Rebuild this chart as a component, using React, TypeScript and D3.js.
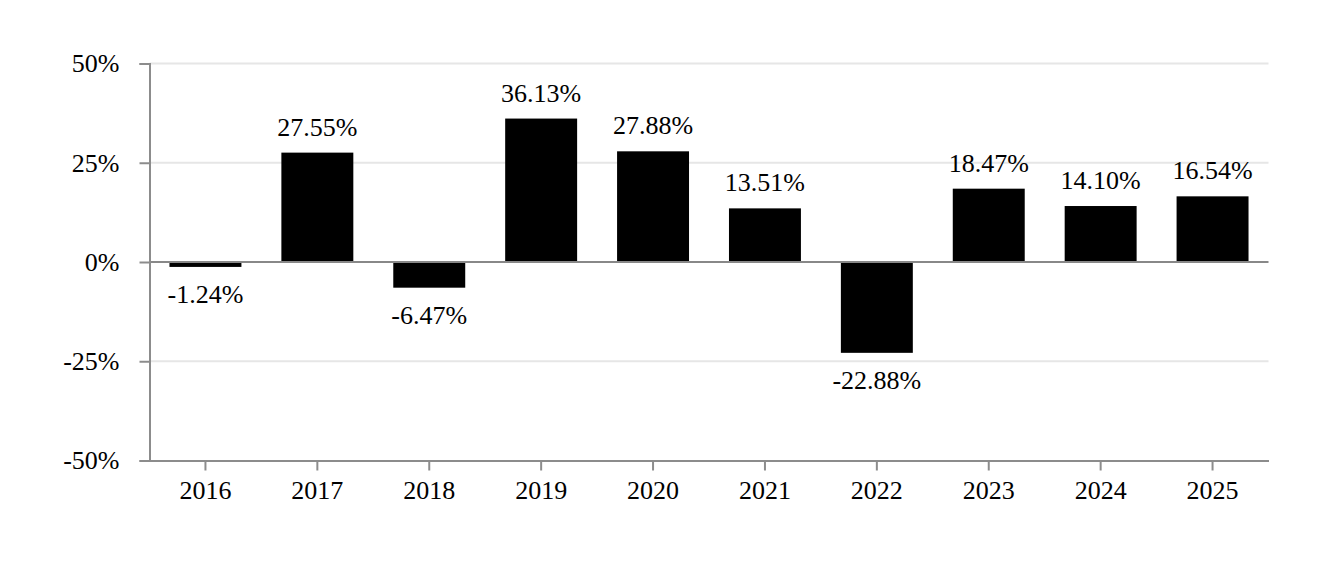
import React, { useEffect, useRef } from 'react';
import * as d3 from 'd3';

const years = ['2016', '2017', '2018', '2019', '2020', '2021', '2022', '2023', '2024', '2025'];
const returns = [-1.24, 27.55, -6.47, 36.13, 27.88, 13.51, -22.88, 18.47, 14.1, 16.54];
const yTicks = [-50, -25, 0, 25, 50];

const W = 1332;
const H = 570;

export default function App() {
  const svgRef = useRef<SVGSVGElement>(null);

  useEffect(() => {
    if (!svgRef.current) return;
    const svg = d3.select(svgRef.current);
    svg.selectAll('*').remove();

    const margin = { top: 63.5, right: 63.5, bottom: 109.5, left: 149.5 };
    const innerWidth = W - margin.left - margin.right;
    const innerHeight = H - margin.top - margin.bottom;
    const font = '"Liberation Serif", "Times New Roman", serif';

    const g = svg.append('g').attr('transform', `translate(${margin.left},${margin.top})`);

    const x = d3.scaleBand<string>().domain(years).range([0, innerWidth]).paddingInner(0.357).paddingOuter(0.1785);
    const y = d3.scaleLinear().domain([-50, 50]).range([innerHeight, 0]);

    // Grid lines
    g.append('g')
      .selectAll('line')
      .data(yTicks.filter(t => t !== 0 && t !== -50))
      .join('line')
      .attr('x1', 0)
      .attr('x2', innerWidth)
      .attr('y1', d => y(d))
      .attr('y2', d => y(d))
      .attr('stroke', '#e6e6e6')
      .attr('stroke-width', 2);

    // Bars
    const data = years.map((yr, i) => ({ yr, v: returns[i] }));
    g.append('g')
      .selectAll('rect')
      .data(data)
      .join('rect')
      .attr('x', d => x(d.yr)!)
      .attr('width', x.bandwidth())
      .attr('y', d => y(Math.max(0, d.v)))
      .attr('height', d => Math.abs(y(d.v) - y(0)))
      .attr('fill', '#000');

    // Zero line
    g.append('line')
      .attr('x1', 0)
      .attr('x2', innerWidth)
      .attr('y1', y(0))
      .attr('y2', y(0))
      .attr('stroke', '#888')
      .attr('stroke-width', 2);

    // Value labels
    g.append('g')
      .selectAll('text')
      .data(data)
      .join('text')
      .attr('x', d => x(d.yr)! + x.bandwidth() / 2)
      .attr('y', d => (d.v >= 0 ? y(d.v) - 17 : y(d.v) + 36))
      .attr('text-anchor', 'middle')
      .attr('font-family', font)
      .attr('font-size', 26)
      .attr('fill', '#000')
      .text(d => `${d.v.toFixed(2)}%`);

    // Y axis
    const yAxis = g.append('g').call(
      d3.axisLeft(y).tickValues(yTicks).tickSize(10).tickPadding(20).tickFormat(d => `${d}%`)
    );
    yAxis.select('.domain').attr('stroke', '#8c8c8c').attr('stroke-width', 2);
    yAxis.selectAll('.tick line').attr('stroke', '#8c8c8c').attr('stroke-width', 2);
    yAxis.selectAll('.tick text').attr('font-family', font).attr('font-size', 26).attr('fill', '#000');

    // X axis
    const xAxis = g.append('g')
      .attr('transform', `translate(0,${innerHeight})`)
      .call(d3.axisBottom(x).tickSize(10).tickPadding(10).tickSizeOuter(0));
    xAxis.select('.domain').attr('stroke', '#8c8c8c').attr('stroke-width', 2);
    xAxis.selectAll('.tick line').attr('stroke', '#8c8c8c').attr('stroke-width', 2);
    xAxis.selectAll('.tick text').attr('font-family', font).attr('font-size', 26).attr('fill', '#000');
  }, []);

  return (
    <svg
      ref={svgRef}
      width={W}
      height={H}
      style={{ position: 'absolute', left: 0, top: 0, background: '#fff' }}
    />
  );
}
